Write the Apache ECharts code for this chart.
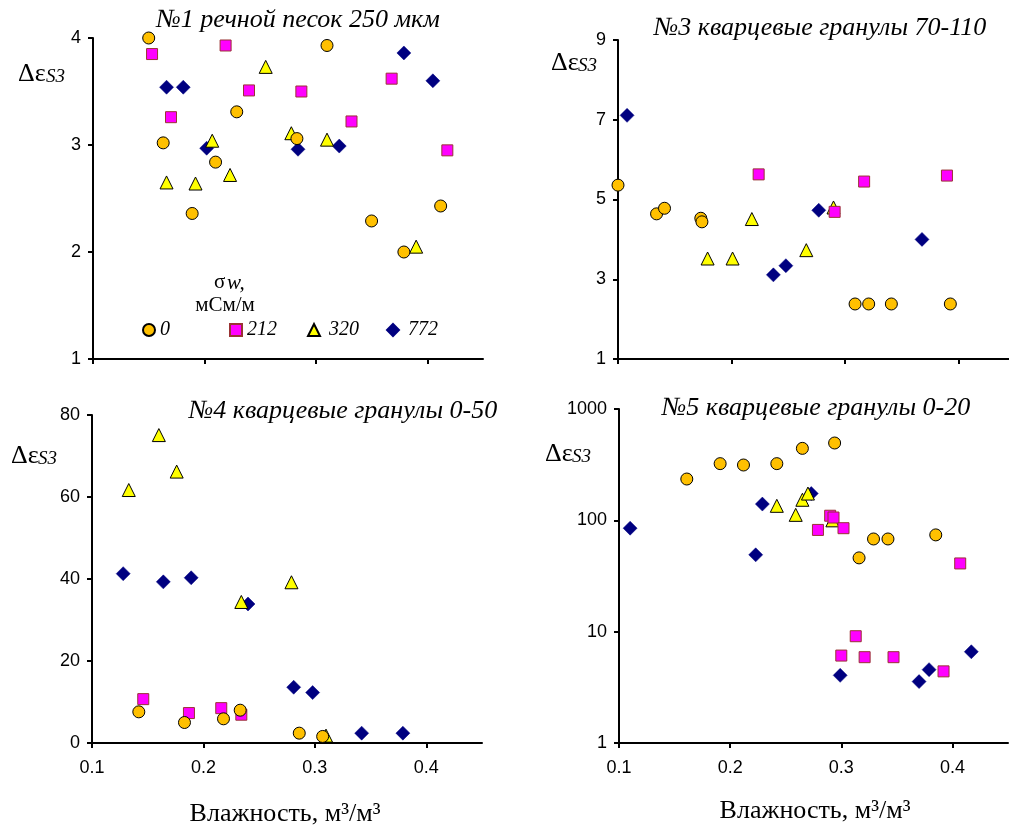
<!DOCTYPE html>
<html>
<head>
<meta charset="utf-8">
<script src="https://cdn.jsdelivr.net/npm/echarts@6/dist/echarts.min.js"></script>
<style>
  html, body { margin: 0; padding: 0; background: #fff; }
  #chart { width: 1009px; height: 829px; }
</style>
</head>
<body>
<div id="chart"></div>
<script>
// Conductivity levels of the pore water, σw (мСм/м)
const sigmaLevels = ['0', '212', '320', '772'];

// Shared x ticks (moisture, м3/м3)
const xTicks = [0.1, 0.2, 0.3, 0.4];
const yTicks1 = [1, 2, 3, 4];
const yTicks3 = [1, 3, 5, 7, 9];
const yTicks4 = [0, 20, 40, 60, 80];
const yTicks5 = [1, 10, 100, 1000];

// №1 river sand 250 µm
const p1_0   = [[0.150, 4.00], [0.163, 3.02], [0.189, 2.36], [0.210, 2.84], [0.229, 3.31], [0.283, 3.06], [0.310, 3.93], [0.350, 2.29], [0.379, 2.00], [0.412, 2.43]];
const p1_212 = [[0.153, 3.85], [0.170, 3.26], [0.219, 3.93], [0.240, 3.51], [0.287, 3.50], [0.332, 3.22], [0.368, 3.62], [0.418, 2.95]];
const p1_320 = [[0.166, 2.65], [0.192, 2.64], [0.207, 3.04], [0.223, 2.72], [0.255, 3.73], [0.278, 3.11], [0.310, 3.05], [0.390, 2.05]];
const p1_772 = [[0.166, 3.54], [0.181, 3.54], [0.202, 2.97], [0.284, 2.96], [0.321, 2.99], [0.379, 3.86], [0.405, 3.60]];

// №3 quartz granules 70-110
const p3_0   = [[0.100, 5.36], [0.134, 4.64], [0.141, 4.78], [0.173, 4.53], [0.174, 4.44], [0.309, 2.38], [0.321, 2.38], [0.341, 2.38], [0.393, 2.38]];
const p3_212 = [[0.224, 5.63], [0.291, 4.69], [0.317, 5.45], [0.390, 5.60]];
const p3_320 = [[0.179, 3.52], [0.201, 3.52], [0.218, 4.51], [0.266, 3.73], [0.290, 4.80]];
const p3_772 = [[0.108, 7.11], [0.237, 3.11], [0.248, 3.34], [0.277, 4.73], [0.368, 4.00]];

// №4 quartz granules 0-50
const p4_0   = [[0.142, 7.6], [0.183, 5.0], [0.218, 5.9], [0.233, 8.0], [0.286, 2.4], [0.307, 1.6]];
const p4_212 = [[0.146, 10.7], [0.187, 7.3], [0.216, 8.5], [0.234, 6.9]];
const p4_320 = [[0.133, 61.7], [0.160, 75.1], [0.176, 66.2], [0.234, 34.4], [0.279, 39.2], [0.310, 1.8]];
const p4_772 = [[0.128, 41.3], [0.164, 39.3], [0.189, 40.3], [0.240, 33.9], [0.281, 13.6], [0.298, 12.3], [0.342, 2.4], [0.379, 2.4]];

// №5 quartz granules 0-20 (log scale)
const p5_0   = [[0.161, 235], [0.191, 323], [0.212, 314], [0.242, 323], [0.265, 443], [0.294, 495], [0.316, 46], [0.329, 68], [0.342, 68], [0.385, 74]];
const p5_212 = [[0.279, 82], [0.290, 110], [0.293, 106], [0.302, 85], [0.313, 9.1], [0.300, 6.1], [0.321, 5.9], [0.347, 5.9], [0.392, 4.4], [0.407, 41]];
const p5_320 = [[0.242, 135], [0.259, 112], [0.265, 153], [0.270, 174], [0.292, 100]];
const p5_772 = [[0.110, 85], [0.223, 49], [0.229, 140], [0.273, 174], [0.299, 4.05], [0.370, 3.56], [0.379, 4.56], [0.417, 6.6]];

const panels = [
  { data: [p1_0, p1_212, p1_320, p1_772] },
  { data: [p3_0, p3_212, p3_320, p3_772] },
  { data: [p4_0, p4_212, p4_320, p4_772] },
  { data: [p5_0, p5_212, p5_320, p5_772] }
];

const SANS = '"Liberation Sans", Arial, sans-serif';
const SERIF = '"Liberation Serif", "Times New Roman", serif';

const markerStyles = {
  '0':   { symbol: 'circle',   symbolSize: 12, itemStyle: { color: '#FFC000', borderColor: '#000', borderWidth: 1, opacity: 1 } },
  '212': { symbol: 'rect',     symbolSize: 11, itemStyle: { color: '#FF00FF', borderColor: '#993333', borderWidth: 1, opacity: 1 } },
  '320': { symbol: 'triangle', symbolSize: 13, itemStyle: { color: '#FFFF00', borderColor: '#000', borderWidth: 1, opacity: 1 } },
  '772': { symbol: 'diamond',  symbolSize: 14, itemStyle: { color: '#000080', borderColor: '#000080', borderWidth: 0.5, opacity: 1 } }
};

const grids = [
  { left: 93,  top: 38,  width: 390, height: 321 },
  { left: 618, top: 40,  width: 397, height: 319 },
  { left: 92,  top: 415, width: 390, height: 328 },
  { left: 619, top: 409, width: 389, height: 334 }
].map(g => Object.assign({ outerBoundsMode: 'none', containLabel: false }, g));

const axisLine = { show: true, lineStyle: { color: '#000', width: 2 } };
const axisTickBase = { show: true, inside: false, length: 5, lineStyle: { color: '#000', width: 2 } };

const xAxes = grids.map((g, i) => ({
  type: 'value',
  gridIndex: i,
  min: 0.1,
  max: 0.45,
  interval: 0.1,
  axisLine: axisLine,
  axisTick: Object.assign({ customValues: xTicks }, axisTickBase),
  axisLabel: {
    show: i >= 2,
    customValues: xTicks,
    margin: 16,
    color: '#000',
    fontFamily: SANS,
    fontSize: 18,
    formatter: v => v.toFixed(1)
  },
  splitLine: { show: false }
}));

const yTickSets = [yTicks1, yTicks3, yTicks4, yTicks5];
const yLabelCommon = { margin: 12, color: '#000', fontFamily: SANS, fontSize: 18, formatter: v => String(v) };
const yAxes = [
  { type: 'value', min: 1, max: 4, interval: 1 },
  { type: 'value', min: 1, max: 9, interval: 2 },
  { type: 'value', min: 0, max: 80, interval: 20 },
  { type: 'log', logBase: 10, min: 1, max: 1000 }
].map((a, i) => Object.assign(a, {
  gridIndex: i,
  axisLine: axisLine,
  axisTick: Object.assign({ customValues: yTickSets[i] }, axisTickBase),
  axisLabel: Object.assign({ customValues: yTickSets[i] }, yLabelCommon),
  splitLine: { show: false },
  minorTick: { show: false }
}));

// Draw order: 772 at the bottom, then 320, 212, and 0 on top
const drawOrder = [3, 2, 1, 0];
const series = [];
panels.forEach((p, gi) => {
  drawOrder.forEach(k => {
    const name = sigmaLevels[k];
    const m = markerStyles[name];
    series.push({
      type: 'scatter',
      name: name,
      xAxisIndex: gi,
      yAxisIndex: gi,
      data: p.data[k],
      symbol: m.symbol,
      symbolSize: m.symbolSize,
      itemStyle: m.itemStyle,
      clip: false,
      emphasis: { disabled: true }
    });
  });
});

// One legend per level so each entry sits at its own spot
const legendLefts = [142, 229, 307, 386];
const legends = sigmaLevels.map((name, i) => ({
  data: [name],
  left: legendLefts[i],
  top: 320,
  orient: 'horizontal',
  padding: 0,
  itemWidth: 12,
  itemHeight: 12,
  itemGap: 0,
  selectedMode: false,
  textStyle: {
    fontFamily: SERIF,
    fontStyle: 'italic',
    fontSize: 20,
    color: '#000',
    padding: [0, 0, 0, i >= 2 ? 4 : 0]
  }
}));

function txt(x, y, text, font, align) {
  return {
    type: 'text',
    x: x,
    y: y,
    silent: true,
    style: {
      text: text,
      font: font,
      fill: '#000',
      textAlign: align || 'left',
      align: align || 'left',
      textVerticalAlign: 'middle',
      verticalAlign: 'middle'
    }
  };
}

const titleFont = 'italic 26px ' + SERIF;
const symFont = '26px ' + SERIF;
const subFont = 'italic 19px ' + SERIF;
const nameFont = '26px ' + SERIF;
const legendTitleFont = '21px ' + SERIF;

const graphics = [
  txt(298, 20, '№1 речной песок 250 мкм', titleFont, 'center'),
  txt(820, 28, '№3 кварцевые гранулы 70-110', titleFont, 'center'),
  txt(343, 411, '№4 кварцевые гранулы 0-50', titleFont, 'center'),
  txt(816, 408, '№5 кварцевые гранулы 0-20', titleFont, 'center'),

  // Δε_S3 axis names
  txt(18, 74, 'Δε', symFont), txt(46, 77, 'S3', subFont),
  txt(551, 63, 'Δε', symFont), txt(578, 66, 'S3', subFont),
  txt(11, 456, 'Δε', symFont), txt(38, 459, 'S3', subFont),
  txt(545, 454, 'Δε', symFont), txt(572, 457, 'S3', subFont),

  // moisture axis names
  txt(285, 814, 'Влажность, м³/м³', nameFont, 'center'),
  txt(815, 811, 'Влажность, м³/м³', nameFont, 'center'),

  // legend heading
  txt(214, 282, 'σ', legendTitleFont),
  txt(227, 283, 'w,', 'italic 21px ' + SERIF),
  txt(225, 305, 'мСм/м', legendTitleFont, 'center')
];

const chart = echarts.init(document.getElementById('chart'), null, { renderer: 'canvas' });
chart.setOption({
  animation: false,
  backgroundColor: '#fff',
  grid: grids,
  xAxis: xAxes,
  yAxis: yAxes,
  legend: legends,
  series: series,
  graphic: { elements: graphics }
});
</script>
</body>
</html>
